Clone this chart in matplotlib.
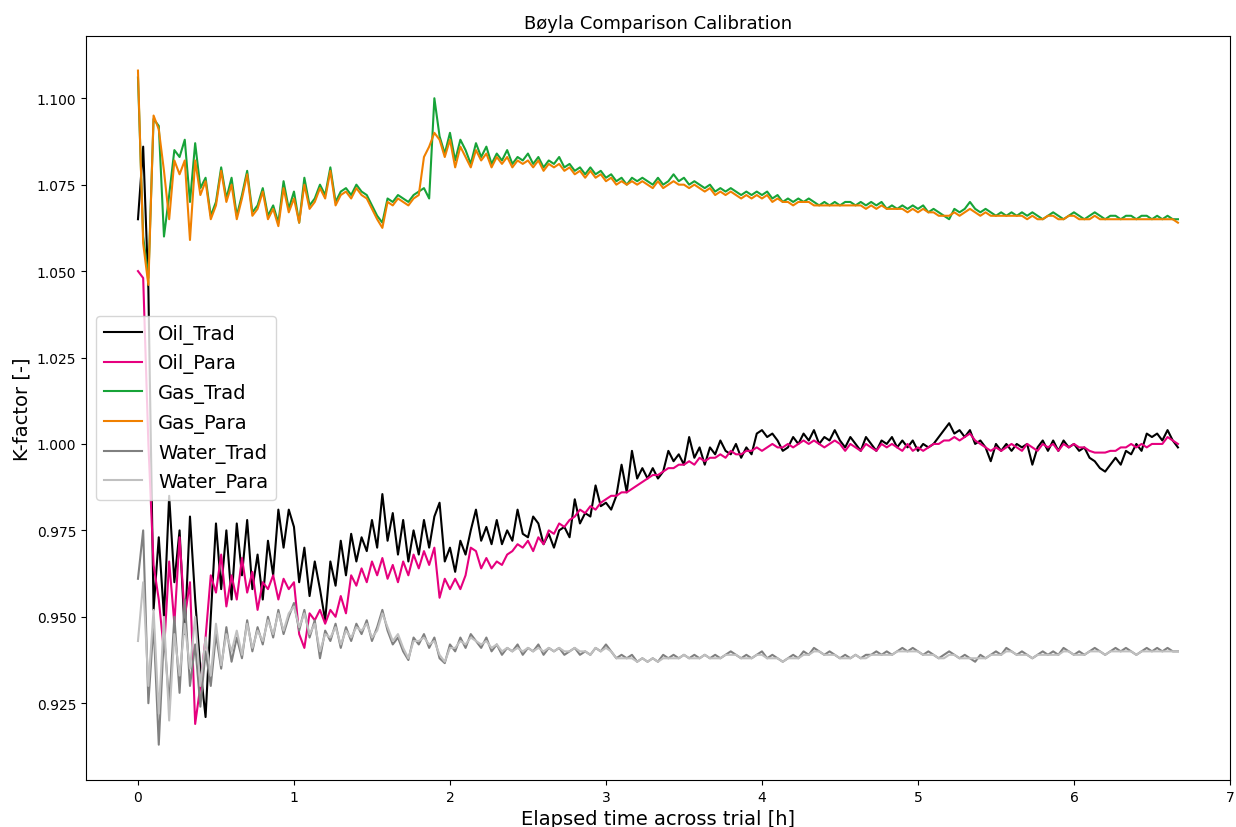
import numpy as np
import matplotlib
matplotlib.use("Agg")
import matplotlib.pyplot as plt

# === Données (un point toutes les 2 minutes) ===
temps_h = np.arange(201) / 30.0

oil_trad = [
    1.065, 1.086, 1.045, 0.952, 0.973, 0.950, 0.985, 0.960, 0.975, 0.945,
    0.979, 0.955, 0.935, 0.921, 0.950, 0.977, 0.958, 0.975, 0.955, 0.977,
    0.962, 0.978, 0.958, 0.968, 0.955, 0.972, 0.962, 0.981, 0.970, 0.981,
    0.976, 0.960, 0.970, 0.956, 0.966, 0.958, 0.949, 0.966, 0.959, 0.972,
    0.962, 0.974, 0.966, 0.973, 0.969, 0.978, 0.970, 0.9855, 0.972, 0.980,
    0.968, 0.978, 0.966, 0.975, 0.968, 0.978, 0.970, 0.979, 0.983, 0.966,
    0.970, 0.963, 0.972, 0.968, 0.975, 0.981, 0.972, 0.976, 0.971, 0.978,
    0.971, 0.975, 0.972, 0.981, 0.974, 0.973, 0.979, 0.977, 0.971, 0.974,
    0.970, 0.975, 0.976, 0.973, 0.984, 0.977, 0.980, 0.979, 0.988, 0.982,
    0.983, 0.981, 0.985, 0.994, 0.986, 0.998, 0.990, 0.993, 0.990, 0.993,
    0.990, 0.992, 0.998, 0.995, 0.997, 0.994, 1.002, 0.996, 0.999, 0.994,
    0.999, 0.997, 1.001, 0.998, 0.997, 1.000, 0.996, 0.999, 0.997, 1.003,
    1.004, 1.002, 1.003, 1.001, 0.998, 0.999, 1.002, 1.000, 1.003, 1.001,
    1.004, 1.000, 1.002, 1.001, 1.004, 1.001, 0.999, 1.002, 1.000, 0.998,
    1.002, 1.000, 0.998, 1.001, 1.000, 1.002, 0.999, 1.001, 0.999, 1.001,
    0.998, 1.000, 0.999, 1.000, 1.002, 1.004, 1.006, 1.003, 1.004, 1.002,
    1.004, 1.000, 1.001, 0.999, 0.995, 1.000, 0.998, 1.000, 0.998, 1.000,
    0.999, 1.000, 0.994, 0.999, 1.001, 0.998, 1.001, 0.998, 1.001, 0.999,
    1.000, 0.998, 0.999, 0.996, 0.995, 0.993, 0.992, 0.994, 0.996, 0.994,
    0.998, 0.997, 1.000, 0.998, 1.003, 1.002, 1.003, 1.001, 1.004, 1.001,
    0.999,
]

oil_para = [
    1.050, 1.048, 1.000, 0.965, 0.955, 0.940, 0.966, 0.948, 0.973, 0.950,
    0.960, 0.919, 0.930, 0.944, 0.962, 0.957, 0.968, 0.953, 0.962, 0.955,
    0.967, 0.957, 0.963, 0.952, 0.960, 0.958, 0.962, 0.955, 0.961, 0.958,
    0.960, 0.945, 0.941, 0.951, 0.949, 0.952, 0.948, 0.952, 0.950, 0.956,
    0.951, 0.962, 0.959, 0.964, 0.960, 0.966, 0.962, 0.967, 0.961, 0.965,
    0.960, 0.966, 0.962, 0.968, 0.964, 0.969, 0.965, 0.970, 0.9555, 0.961,
    0.958, 0.961, 0.958, 0.962, 0.970, 0.969, 0.964, 0.967, 0.964, 0.966,
    0.965, 0.968, 0.969, 0.971, 0.970, 0.972, 0.969, 0.973, 0.971, 0.975,
    0.974, 0.977, 0.976, 0.978, 0.979, 0.981, 0.980, 0.982, 0.981, 0.983,
    0.984, 0.985, 0.985, 0.986, 0.986, 0.987, 0.988, 0.989, 0.990, 0.991,
    0.991, 0.992, 0.993, 0.993, 0.994, 0.994, 0.995, 0.994, 0.996, 0.995,
    0.996, 0.996, 0.997, 0.996, 0.998, 0.997, 0.997, 0.998, 0.998, 0.999,
    0.998, 0.999, 1.000, 0.999, 0.999, 1.000, 0.999, 1.000, 1.001, 1.000,
    1.001, 1.000, 0.999, 1.000, 1.001, 1.000, 0.998, 1.000, 0.999, 0.998,
    1.000, 0.999, 0.998, 1.000, 0.999, 1.000, 0.999, 0.998, 1.000, 0.998,
    0.999, 0.998, 0.999, 1.000, 1.000, 1.001, 1.001, 1.002, 1.001, 1.002,
    1.003, 1.001, 1.000, 0.999, 0.998, 0.999, 0.998, 0.999, 1.000, 0.999,
    0.998, 1.000, 0.999, 0.998, 1.000, 0.999, 1.000, 0.998, 1.000, 0.999,
    1.000, 0.999, 0.999, 0.998, 0.9975, 0.9975, 0.9975, 0.998, 0.998, 0.999,
    0.999, 1.000, 0.999, 1.000, 0.999, 1.000, 1.000, 1.000, 1.002, 1.001,
    1.000,
]

gas_trad = [
    1.106, 1.060, 1.048, 1.094, 1.092, 1.060, 1.072, 1.085, 1.083, 1.088,
    1.070, 1.087, 1.074, 1.077, 1.066, 1.070, 1.080, 1.071, 1.077, 1.066,
    1.072, 1.079, 1.067, 1.069, 1.074, 1.066, 1.069, 1.064, 1.076, 1.068,
    1.073, 1.064, 1.077, 1.069, 1.071, 1.075, 1.072, 1.080, 1.070, 1.073,
    1.074, 1.072, 1.075, 1.073, 1.072, 1.069, 1.066, 1.064, 1.071, 1.070,
    1.072, 1.071, 1.070, 1.072, 1.073, 1.074, 1.071, 1.100, 1.089, 1.084,
    1.090, 1.082, 1.088, 1.085, 1.081, 1.087, 1.083, 1.086, 1.081, 1.084,
    1.082, 1.085, 1.081, 1.083, 1.082, 1.084, 1.081, 1.083, 1.080, 1.082,
    1.081, 1.083, 1.080, 1.081, 1.079, 1.080, 1.078, 1.080, 1.078, 1.079,
    1.077, 1.078, 1.076, 1.077, 1.075, 1.077, 1.076, 1.077, 1.076, 1.075,
    1.077, 1.075, 1.076, 1.078, 1.076, 1.077, 1.075, 1.076, 1.075, 1.074,
    1.075, 1.073, 1.074, 1.073, 1.074, 1.073, 1.072, 1.073, 1.072, 1.073,
    1.072, 1.073, 1.071, 1.072, 1.070, 1.071, 1.070, 1.071, 1.070, 1.071,
    1.070, 1.069, 1.070, 1.069, 1.070, 1.069, 1.070, 1.070, 1.069, 1.070,
    1.069, 1.070, 1.069, 1.070, 1.068, 1.069, 1.068, 1.069, 1.068, 1.069,
    1.068, 1.069, 1.067, 1.068, 1.067, 1.066, 1.065, 1.068, 1.067, 1.068,
    1.070, 1.068, 1.067, 1.068, 1.067, 1.066, 1.067, 1.066, 1.067, 1.066,
    1.067, 1.066, 1.067, 1.066, 1.065, 1.066, 1.067, 1.066, 1.065, 1.066,
    1.067, 1.066, 1.065, 1.066, 1.067, 1.066, 1.065, 1.066, 1.066, 1.065,
    1.066, 1.066, 1.065, 1.066, 1.066, 1.065, 1.066, 1.065, 1.066, 1.065,
    1.065,
]

gas_para = [
    1.108, 1.058, 1.046, 1.095, 1.091, 1.079, 1.065, 1.082, 1.078, 1.082,
    1.059, 1.082, 1.072, 1.076, 1.065, 1.069, 1.079, 1.070, 1.075, 1.065,
    1.071, 1.078, 1.066, 1.068, 1.073, 1.065, 1.068, 1.063, 1.074, 1.067,
    1.071, 1.064, 1.075, 1.068, 1.070, 1.074, 1.071, 1.079, 1.069, 1.072,
    1.073, 1.071, 1.074, 1.072, 1.071, 1.068, 1.065, 1.0625, 1.070, 1.069,
    1.071, 1.070, 1.069, 1.071, 1.072, 1.083, 1.086, 1.090, 1.088, 1.083,
    1.088, 1.080, 1.086, 1.083, 1.080, 1.085, 1.082, 1.084, 1.080, 1.083,
    1.081, 1.083, 1.080, 1.082, 1.081, 1.082, 1.080, 1.082, 1.079, 1.081,
    1.080, 1.081, 1.079, 1.080, 1.078, 1.079, 1.077, 1.079, 1.077, 1.078,
    1.076, 1.077, 1.075, 1.076, 1.075, 1.076, 1.075, 1.076, 1.075, 1.074,
    1.076, 1.074, 1.075, 1.076, 1.075, 1.075, 1.074, 1.075, 1.074, 1.073,
    1.074, 1.072, 1.073, 1.072, 1.073, 1.072, 1.071, 1.072, 1.071, 1.072,
    1.071, 1.072, 1.070, 1.071, 1.070, 1.070, 1.069, 1.070, 1.070, 1.070,
    1.069, 1.069, 1.069, 1.069, 1.069, 1.069, 1.069, 1.069, 1.069, 1.069,
    1.068, 1.069, 1.068, 1.069, 1.068, 1.068, 1.068, 1.068, 1.067, 1.068,
    1.067, 1.068, 1.067, 1.067, 1.066, 1.066, 1.066, 1.067, 1.066, 1.067,
    1.068, 1.067, 1.066, 1.067, 1.066, 1.066, 1.066, 1.066, 1.066, 1.066,
    1.066, 1.065, 1.066, 1.065, 1.065, 1.066, 1.066, 1.065, 1.065, 1.066,
    1.066, 1.065, 1.065, 1.065, 1.066, 1.065, 1.065, 1.065, 1.065, 1.065,
    1.065, 1.065, 1.065, 1.065, 1.065, 1.065, 1.065, 1.065, 1.065, 1.065,
    1.064,
]

water_trad = [
    0.961, 0.975, 0.925, 0.948, 0.913, 0.945, 0.925, 0.950, 0.928, 0.955,
    0.930, 0.942, 0.924, 0.940, 0.930, 0.945, 0.935, 0.947, 0.937, 0.944,
    0.938, 0.949, 0.940, 0.947, 0.942, 0.950, 0.944, 0.952, 0.945, 0.950,
    0.954, 0.946, 0.952, 0.944, 0.949, 0.938, 0.946, 0.943, 0.948, 0.941,
    0.947, 0.943, 0.948, 0.945, 0.949, 0.943, 0.947, 0.952, 0.946, 0.942,
    0.944, 0.940, 0.9375, 0.944, 0.942, 0.945, 0.941, 0.944, 0.938, 0.9366,
    0.942, 0.940, 0.944, 0.941, 0.945, 0.943, 0.941, 0.944, 0.940, 0.942,
    0.939, 0.941, 0.940, 0.942, 0.939, 0.941, 0.940, 0.942, 0.939, 0.941,
    0.940, 0.941, 0.939, 0.940, 0.941, 0.939, 0.940, 0.939, 0.941, 0.940,
    0.942, 0.940, 0.938, 0.939, 0.938, 0.939, 0.937, 0.938, 0.937, 0.938,
    0.937, 0.939, 0.938, 0.939, 0.938, 0.939, 0.938, 0.939, 0.938, 0.939,
    0.938, 0.939, 0.938, 0.939, 0.940, 0.939, 0.938, 0.939, 0.938, 0.939,
    0.940, 0.938, 0.939, 0.938, 0.937, 0.938, 0.939, 0.938, 0.940, 0.939,
    0.941, 0.940, 0.939, 0.940, 0.939, 0.938, 0.939, 0.938, 0.939, 0.938,
    0.939, 0.939, 0.940, 0.939, 0.940, 0.939, 0.940, 0.941, 0.940, 0.941,
    0.940, 0.939, 0.940, 0.939, 0.938, 0.939, 0.940, 0.939, 0.938, 0.939,
    0.938, 0.937, 0.939, 0.938, 0.939, 0.940, 0.939, 0.941, 0.940, 0.939,
    0.940, 0.939, 0.938, 0.939, 0.940, 0.939, 0.940, 0.939, 0.941, 0.940,
    0.939, 0.940, 0.939, 0.940, 0.941, 0.940, 0.939, 0.940, 0.941, 0.940,
    0.941, 0.940, 0.939, 0.940, 0.941, 0.940, 0.941, 0.940, 0.941, 0.940,
    0.940,
]

water_para = [
    0.943, 0.960, 0.930, 0.952, 0.922, 0.950, 0.920, 0.945, 0.933, 0.948,
    0.935, 0.950, 0.930, 0.944, 0.933, 0.948, 0.936, 0.945, 0.940, 0.946,
    0.939, 0.948, 0.941, 0.946, 0.943, 0.949, 0.945, 0.951, 0.946, 0.951,
    0.953, 0.947, 0.951, 0.945, 0.948, 0.940, 0.945, 0.944, 0.947, 0.942,
    0.946, 0.944, 0.947, 0.946, 0.948, 0.944, 0.946, 0.951, 0.947, 0.943,
    0.945, 0.941, 0.938, 0.943, 0.943, 0.944, 0.942, 0.943, 0.939, 0.937,
    0.941, 0.941, 0.943, 0.942, 0.944, 0.943, 0.942, 0.943, 0.941, 0.942,
    0.940, 0.941, 0.940, 0.941, 0.940, 0.941, 0.940, 0.941, 0.940, 0.941,
    0.940, 0.941, 0.940, 0.940, 0.941, 0.940, 0.940, 0.939, 0.941, 0.940,
    0.941, 0.940, 0.938, 0.938, 0.938, 0.938, 0.937, 0.938, 0.937, 0.938,
    0.937, 0.938, 0.938, 0.938, 0.938, 0.939, 0.938, 0.938, 0.938, 0.939,
    0.938, 0.938, 0.938, 0.939, 0.939, 0.939, 0.938, 0.938, 0.938, 0.939,
    0.939, 0.938, 0.938, 0.938, 0.937, 0.938, 0.938, 0.938, 0.939, 0.939,
    0.940, 0.940, 0.939, 0.939, 0.939, 0.938, 0.938, 0.938, 0.939, 0.938,
    0.938, 0.939, 0.939, 0.939, 0.939, 0.939, 0.940, 0.940, 0.940, 0.940,
    0.940, 0.939, 0.939, 0.939, 0.938, 0.938, 0.939, 0.939, 0.938, 0.938,
    0.938, 0.938, 0.938, 0.938, 0.939, 0.939, 0.939, 0.940, 0.940, 0.939,
    0.939, 0.939, 0.938, 0.939, 0.939, 0.939, 0.939, 0.939, 0.940, 0.940,
    0.939, 0.939, 0.939, 0.940, 0.940, 0.940, 0.939, 0.940, 0.940, 0.940,
    0.940, 0.940, 0.939, 0.940, 0.940, 0.940, 0.940, 0.940, 0.940, 0.940,
    0.940,
]

series = [
    ("Oil_Trad", oil_trad, "black"),
    ("Oil_Para", oil_para, "#e6007e"),
    ("Gas_Trad", gas_trad, "#17a338"),
    ("Gas_Para", gas_para, "#f08000"),
    ("Water_Trad", water_trad, "#808080"),
    ("Water_Para", water_para, "#c0c0c0"),
]

# === Graphique ===
fig = plt.figure(figsize=(12.36, 8.28), dpi=100)
ax = fig.add_axes([0.0696, 0.0568, 0.9255, 0.8985])

for nom, valeurs, couleur in series:
    ax.plot(temps_h, valeurs, label=nom, color=couleur, lw=1.5)

ax.set_xlim(-0.333, 7.0)
ax.set_ylim(0.9028, 1.118)
ax.set_title("Bøyla Comparison Calibration", fontsize=13)
ax.set_xlabel("Elapsed time across trial [h]", fontsize=14)
ax.set_ylabel("K-factor [-]", fontsize=14)
ax.legend(loc="center left", fontsize=14)

fig.savefig("out.png", dpi=100)
